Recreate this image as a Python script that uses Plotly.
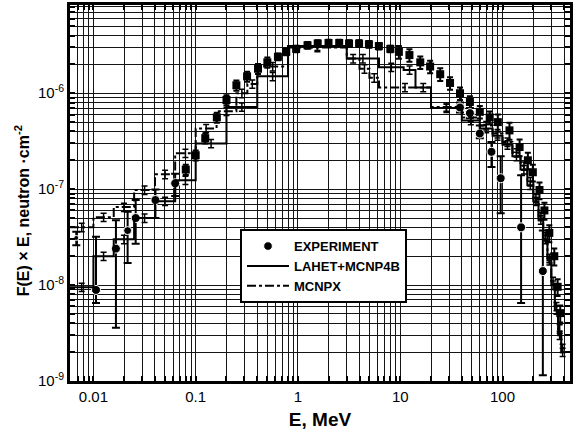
import plotly.graph_objects as go

# ---------------- data ----------------
# Experiment, main spectrum (small error bars)
arc_E = [0.08, 0.1, 0.124, 0.161, 0.2, 0.25, 0.318, 0.407, 0.502, 0.637, 0.768, 0.96,
         1.24, 1.56, 1.99, 2.53, 3.16, 3.96, 4.94, 6.18, 8.0, 9.7, 12.3, 15.7, 19.6,
         24.6, 30.7, 38.4, 48, 60, 75, 90, 117, 147, 177, 198, 230, 257, 287, 321, 346, 367]
arc_F = [1.6e-7, 2.26e-7, 3.4e-7, 5.6e-7, 8.5e-7, 1.21e-6, 1.5e-6, 1.8e-6, 2.1e-6, 2.4e-6, 2.7e-6, 2.9e-6,
         3.16e-6, 3.3e-6, 3.34e-6, 3.34e-6, 3.3e-6, 3.3e-6, 3.24e-6, 3.1e-6, 2.9e-6, 2.7e-6, 2.5e-6, 2.1e-6, 1.9e-6,
         1.58e-6, 1.28e-6, 1.0e-6, 8.1e-7, 6.4e-7, 5.6e-7, 5.0e-7, 4.1e-7, 2.75e-7, 2.0e-7, 1.5e-7, 9.8e-8, 6.0e-8,
         3.5e-8, 2.0e-8, 9.6e-9, 5.1e-9]
arc_rel_err = [0.12] * 9 + [0.08] * 12 + [0.15] * 10 + [0.2] * 11

# Experiment, points with large error bars (circles)
exp_E = [0.0068, 0.0106, 0.0166, 0.0216, 0.0259, 0.0404, 0.063,
         38.4, 48, 60, 78, 96, 152, 248]
exp_F = [3.1e-8, 8.9e-9, 2.4e-8, 3.7e-8, 5.0e-8, 7.7e-8, 1.15e-7,
         7.1e-7, 6.2e-7, 3.8e-7, 2.45e-7, 1.3e-7, 4.0e-8, 1.4e-8]
exp_hi = [3.6e-8, 3.2e-8, 4.75e-8, 5.8e-8, 7.7e-8, 9.9e-8, 1.45e-7,
          8.0e-7, 7.0e-7, 4.6e-7, 3.1e-7, 2.2e-7, 1.4e-7, 3.7e-8]
exp_lo = [2.6e-8, 6.5e-9, 3.6e-9, 1.7e-8, 2.7e-8, 5.0e-8, 8.5e-8,
          6.3e-7, 5.5e-7, 3.4e-7, 1.7e-7, 5.6e-8, 6.5e-9, 1.15e-9]
exp_size = [5, 9, 9, 8, 9, 9, 9, 9, 9, 9, 9, 9, 9, 9]

# LAHET+MCNP4B histogram (bin edges, bin values)
lahet_edges = [0.0059, 0.01, 0.0158, 0.025, 0.04, 0.063, 0.1, 0.2, 0.4, 0.8, 3.0,
               6.2, 10.8, 14.1, 20, 40, 60, 80, 100, 125, 150,
               175, 200, 225, 250, 275, 300, 325, 350, 375, 400]
lahet_vals = [9.5e-9, 2.0e-8, 3.0e-8, 5.0e-8, 7.5e-8, 1.24e-7, 3.0e-7, 7.2e-7, 1.5e-6, 3.1e-6,
              2.3e-6, 1.87e-6, 1.75e-6, 1.15e-6, 7.0e-7, 5.2e-7, 4.3e-7, 3.6e-7, 2.9e-7, 2.2e-7,
              1.6e-7, 1.1e-7, 7.5e-8, 4.8e-8, 3.0e-8, 1.8e-8, 1.0e-8, 5.5e-9, 3.0e-9, 2.0e-9]

# MCNPX histogram
mcnpx_edges = [0.0059, 0.01, 0.0158, 0.025, 0.04, 0.063, 0.1, 0.16, 0.25, 0.32,
               0.4, 0.8, 3.0, 4.0, 5.0, 6.2, 20, 40, 60, 80,
               100, 125, 150, 175, 200, 225, 250, 275, 300, 325,
               350, 375, 400]
mcnpx_vals = [4.0e-8, 5.1e-8, 6.5e-8, 9.8e-8, 1.43e-7, 2.37e-7, 4.3e-7, 6.5e-7, 1.0e-6, 1.25e-6,
              1.9e-6, 3.0e-6, 2.3e-6, 1.8e-6, 1.45e-6, 1.15e-6, 7.2e-7, 5.6e-7, 4.6e-7, 3.8e-7,
              3.1e-7, 2.4e-7, 1.75e-7, 1.2e-7, 8.0e-8, 5.2e-8, 3.2e-8, 1.9e-8, 1.1e-8, 6.0e-9,
              3.5e-9, 2.2e-9]
hist_rel_err = 0.1

# tick labels (one per decade)
x_decades = [-3, -2, -1, 0, 1, 2]
x_tick_text = ["", "0.01", "0.1", "1", "10", "100"]
y_decades = [-9, -8, -7, -6, -5]
y_tick_text = ["10<sup>-9</sup>", "10<sup>-8</sup>", "10<sup>-7</sup>", "10<sup>-6</sup>", ""]

FONT = "Liberation Sans, Arial, Helvetica, sans-serif"


def log_grid(decades, labels):
    vals, text = [], []
    for d, lab in zip(decades, labels):
        for k in range(1, 10):
            vals.append(k * 10.0 ** d)
            text.append(lab if k == 1 else "")
    return vals, text


xt_vals, xt_text = log_grid(x_decades, x_tick_text)
yt_vals, yt_text = log_grid(y_decades, y_tick_text)

# ---------------- figure ----------------
fig = go.Figure()


def hist_trace(edges, vals, name, dash):
    return go.Scatter(
        x=edges, y=vals + [vals[-1]], mode="lines", name=name,
        line=dict(color="black", width=2, dash=dash, shape="hv"),
    )


def hist_err(edges, vals):
    cx = [(edges[i] * edges[i + 1]) ** 0.5 for i in range(len(vals))]
    return go.Scatter(
        x=cx, y=vals, mode="markers", showlegend=False, hoverinfo="skip",
        marker=dict(size=1, color="black"),
        error_y=dict(type="percent", value=hist_rel_err * 100, color="black",
                     thickness=1.5, width=3),
    )


fig.add_trace(hist_err(lahet_edges, lahet_vals))
fig.add_trace(hist_err(mcnpx_edges, mcnpx_vals))

fig.add_trace(go.Scatter(
    x=arc_E, y=arc_F, mode="markers", showlegend=False,
    marker=dict(symbol="square", size=8, color="black", opacity=1),
    error_y=dict(type="data", array=[f * r for f, r in zip(arc_F, arc_rel_err)],
                 arrayminus=[f * r for f, r in zip(arc_F, arc_rel_err)],
                 color="black", thickness=2, width=3),
))

fig.add_trace(go.Scatter(
    x=exp_E, y=exp_F, mode="markers", name="EXPERIMENT",
    marker=dict(symbol="circle", size=exp_size, color="black", opacity=1),
    error_y=dict(type="data",
                 array=[h - f for h, f in zip(exp_hi, exp_F)],
                 arrayminus=[f - l for f, l in zip(exp_F, exp_lo)],
                 color="black", thickness=2, width=4),
))

fig.add_trace(hist_trace(lahet_edges, lahet_vals, "LAHET+MCNP4B", "solid"))
fig.add_trace(hist_trace(mcnpx_edges, mcnpx_vals, "MCNPX", "dashdot"))

axis_common = dict(
    type="log", showline=True, linecolor="black", linewidth=3, mirror="allticks",
    showgrid=True, gridcolor="#151515", gridwidth=1.4,
    ticks="inside", ticklen=5, tickwidth=1.5, tickcolor="black",
    zeroline=False, tickmode="array",
    tickfont=dict(family=FONT, size=15, color="black"),
)

fig.update_layout(
    width=574, height=437,
    margin=dict(l=70, r=1, t=5, b=56),
    paper_bgcolor="white", plot_bgcolor="white",
    font=dict(family=FONT, color="black"),
    xaxis=dict(axis_common, range=[-2.229, 2.66],
               tickvals=xt_vals, ticktext=xt_text,
               title=dict(text="E, MeV", font=dict(family=FONT, size=19, weight="bold"), standoff=9)),
    yaxis=dict(axis_common, range=[-9, -5.08],
               tickvals=yt_vals, ticktext=yt_text),
    legend=dict(x=0.34, y=0.404, xanchor="left", yanchor="top",
                bgcolor="white", bordercolor="black", borderwidth=2,
                font=dict(family=FONT, size=13, color="black", weight="bold"),
                tracegroupgap=0, itemwidth=42),
    annotations=[dict(
        text="F(E) × E, neutron ·cm<sup>-2</sup>", textangle=-90,
        xref="paper", yref="paper", x=-0.0954, y=0.452,
        xanchor="center", yanchor="middle", showarrow=False,
        font=dict(family=FONT, size=16, color="black", weight="bold"),
    )],
)

fig.write_html("out.html")
